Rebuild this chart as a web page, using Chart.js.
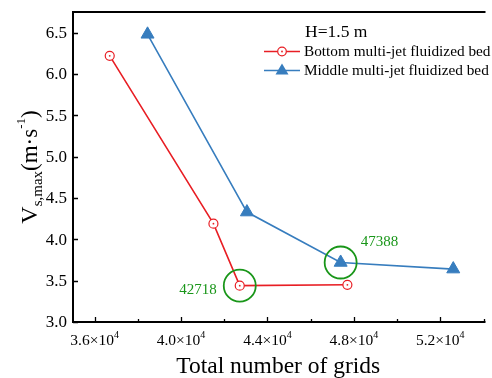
<!DOCTYPE html>
<html>
<head>
<meta charset="utf-8">
<script src="https://cdn.jsdelivr.net/npm/chart.js@4"></script>
<style>
    html, body { margin: 0; padding: 0; background: #fff; overflow: hidden; }
    #wrap { width: 492px; height: 378px; }
</style>
</head>
<body>
<div id="wrap"><canvas id="gridChart" width="492" height="378"></canvas></div>
<script>
const gridsBottom = [36700, 41500, 42718, 47700];
const speedBottom = [6.22, 4.19, 3.44, 3.45];
const gridsMiddle = [38450, 43050, 47388, 52600];
const speedMiddle = [6.48, 4.33, 3.72, 3.64];
const xTicks = [36000, 40000, 44000, 48000, 52000];
const xTickLabels = ["3.6", "4.0", "4.4", "4.8", "5.2"];
const yTicks = [3.0, 3.5, 4.0, 4.5, 5.0, 5.5, 6.0, 6.5];
const marked = [[42718, 3.44, "42718"], [47388, 3.72, "47388"]];

const RED = "rgb(232, 30, 36)";
const BLUE = "rgb(55, 125, 190)";
const GREEN = "rgb(25, 150, 25)";
const SERIF = "'Liberation Serif', 'Times New Roman', serif";

const toPoints = (xs, ys) => xs.map((x, i) => ({ x: x, y: ys[i] }));

const decorations = {
    id: "decorations",
    afterDatasetsDraw(chart) {
        // small dot in the middle of each open circle
        const ctx = chart.ctx;
        ctx.save();
        ctx.fillStyle = RED;
        chart.getDatasetMeta(0).data.forEach(pt => {
            ctx.beginPath();
            ctx.arc(pt.x, pt.y, 0.9, 0, Math.PI * 2);
            ctx.fill();
        });
        ctx.restore();
    },
    afterDraw(chart) {
        const ctx = chart.ctx;
        const area = chart.chartArea;
        const xs = chart.scales.x;
        const ys = chart.scales.y;
        ctx.save();

        // frame (right side falls off the canvas)
        ctx.strokeStyle = "#000";
        ctx.lineWidth = 2;
        ctx.beginPath();
        ctx.moveTo(area.right + 2, area.top);
        ctx.lineTo(area.left, area.top);
        ctx.lineTo(area.left, area.bottom);
        ctx.lineTo(area.right + 2, area.bottom);
        ctx.stroke();

        // inward ticks
        ctx.lineWidth = 1.3;
        ctx.beginPath();
        for (let v = 36000; v <= 54000; v += 2000) {
            const px = Math.round(xs.getPixelForValue(v)) + 0.5;
            const len = v % 4000 === 0 ? 5 : 3;
            ctx.moveTo(px, area.bottom);
            ctx.lineTo(px, area.bottom - len);
        }
        yTicks.forEach(v => {
            const py = Math.round(ys.getPixelForValue(v)) + 0.5;
            ctx.moveTo(area.left, py);
            ctx.lineTo(area.left + 5, py);
        });
        ctx.stroke();

        // tick labels
        ctx.fillStyle = "#000";
        ctx.textBaseline = "middle";
        ctx.font = "17px " + SERIF;
        ctx.textAlign = "right";
        yTicks.forEach(v => {
            ctx.fillText(v.toFixed(1), area.left - 6, ys.getPixelForValue(v) + 1);
        });
        ctx.textAlign = "left";
        xTicks.forEach((v, i) => {
            const base = xTickLabels[i] + "×10";
            ctx.font = "15.5px " + SERIF;
            const w1 = ctx.measureText(base).width;
            ctx.font = "10px " + SERIF;
            const w2 = ctx.measureText("4").width;
            const x0 = xs.getPixelForValue(v) - (w1 + w2) / 2;
            ctx.font = "15.5px " + SERIF;
            ctx.fillText(base, x0, area.bottom + 19);
            ctx.font = "10px " + SERIF;
            ctx.fillText("4", x0 + w1, area.bottom + 13);
        });

        // x title
        ctx.font = "23.5px " + SERIF;
        ctx.textAlign = "center";
        ctx.fillText("Total number of grids", (area.left + area.right) / 2, 367);

        // y title, rotated
        ctx.save();
        ctx.translate(31, (area.top + area.bottom) / 2);
        ctx.rotate(-Math.PI / 2);
        const parts = [
            ["V", "24px", 0],
            ["s,max", "15px", 7],
            ["(m·s", "23px", 0],
            ["-1", "13px", -9],
            [")", "23px", 0]
        ];
        let total = 0;
        parts.forEach(p => { ctx.font = p[1] + " " + SERIF; total += ctx.measureText(p[0]).width; });
        let cx = -total / 2;
        ctx.textAlign = "left";
        parts.forEach(p => {
            ctx.font = p[1] + " " + SERIF;
            ctx.fillText(p[0], cx, p[2]);
            cx += ctx.measureText(p[0]).width;
        });
        ctx.restore();

        // green highlight circles and labels
        ctx.strokeStyle = GREEN;
        ctx.fillStyle = GREEN;
        ctx.lineWidth = 1.8;
        marked.forEach(m => {
            const px = xs.getPixelForValue(m[0]);
            const py = ys.getPixelForValue(m[1]);
            ctx.beginPath();
            ctx.arc(px, py, 16, 0, Math.PI * 2);
            ctx.stroke();
        });
        ctx.font = "15px " + SERIF;
        ctx.textAlign = "right";
        ctx.fillText(marked[0][2], xs.getPixelForValue(marked[0][0]) - 23, ys.getPixelForValue(marked[0][1]) + 4);
        ctx.textAlign = "left";
        ctx.fillText(marked[1][2], xs.getPixelForValue(marked[1][0]) + 20, ys.getPixelForValue(marked[1][1]) - 20);

        // legend
        ctx.fillStyle = "#000";
        ctx.font = "17.5px " + SERIF;
        ctx.textAlign = "left";
        ctx.fillText("H=1.5 m", 305, 32);
        ctx.font = "15.3px " + SERIF;
        ctx.lineWidth = 1.6;
        ctx.strokeStyle = RED;
        ctx.beginPath();
        ctx.moveTo(264, 51.5);
        ctx.lineTo(300, 51.5);
        ctx.stroke();
        ctx.fillStyle = "#fff";
        ctx.beginPath();
        ctx.arc(282, 51.5, 4.3, 0, Math.PI * 2);
        ctx.fill();
        ctx.lineWidth = 1.2;
        ctx.stroke();
        ctx.fillStyle = RED;
        ctx.beginPath();
        ctx.arc(282, 51.5, 0.9, 0, Math.PI * 2);
        ctx.fill();
        ctx.fillStyle = "#000";
        ctx.fillText("Bottom multi-jet fluidized bed", 304, 52);

        ctx.strokeStyle = BLUE;
        ctx.lineWidth = 1.6;
        ctx.beginPath();
        ctx.moveTo(264, 70.5);
        ctx.lineTo(300, 70.5);
        ctx.stroke();
        ctx.fillStyle = BLUE;
        ctx.beginPath();
        ctx.moveTo(282, 63.5);
        ctx.lineTo(288.5, 74.5);
        ctx.lineTo(275.5, 74.5);
        ctx.closePath();
        ctx.fill();
        ctx.fillStyle = "#000";
        ctx.fillText("Middle multi-jet fluidized bed", 304, 71);

        ctx.restore();
    }
};

new Chart(document.getElementById("gridChart").getContext("2d"), {
    type: "scatter",
    data: {
        datasets: [
            {
                label: "Bottom multi-jet fluidized bed",
                data: toPoints(gridsBottom, speedBottom),
                showLine: true,
                borderColor: RED,
                borderWidth: 1.6,
                pointStyle: "circle",
                pointRadius: 4.5,
                pointBackgroundColor: "#fff",
                pointBorderColor: RED,
                pointBorderWidth: 1.2
            },
            {
                label: "Middle multi-jet fluidized bed",
                data: toPoints(gridsMiddle, speedMiddle),
                showLine: true,
                borderColor: BLUE,
                borderWidth: 1.6,
                pointStyle: "triangle",
                pointRadius: 7.5,
                pointBackgroundColor: BLUE,
                pointBorderColor: BLUE,
                pointBorderWidth: 1
            }
        ]
    },
    options: {
        responsive: false,
        animation: false,
        layout: { padding: { top: 12, right: 0, left: 0, bottom: 0 } },
        scales: {
            x: {
                type: "linear",
                min: 35000,
                max: 54000,
                grid: { display: false, drawTicks: false },
                border: { display: false },
                ticks: { display: false },
                afterFit(scale) { scale.height = 56; }
            },
            y: {
                min: 3.0,
                max: 6.75,
                grid: { display: false, drawTicks: false },
                border: { display: false },
                ticks: { display: false },
                afterFit(scale) { scale.width = 73; }
            }
        },
        plugins: {
            legend: { display: false },
            tooltip: { enabled: false }
        }
    },
    plugins: [decorations]
});
</script>
</body>
</html>
